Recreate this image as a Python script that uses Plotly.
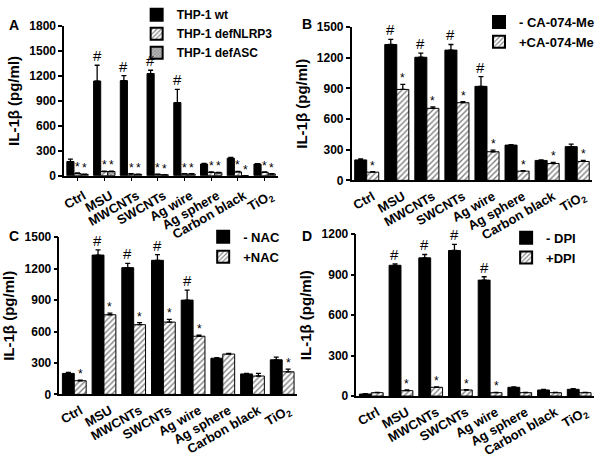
import plotly.graph_objects as go

categories = ["Ctrl", "MSU", "MWCNTs", "SWCNTs", "Ag wire", "Ag sphere", "Carbon black", "TiO<sub>2</sub>"]

# Panel A
a_wt = [170, 1140, 1145, 1230, 880, 140, 210, 140]
a_wt_err = [30, 190, 60, 40, 160, 8, 10, 5]
a_nlrp3 = [25, 50, 20, 15, 20, 40, 45, 40]
a_nlrp3_err = [8, 5, 3, 3, 3, 5, 5, 5]
a_asc = [15, 50, 15, 10, 20, 35, 0, 20]
a_asc_err = [3, 3, 3, 3, 3, 3, 0, 3]
a_hash = [0, 1, 1, 1, 1, 0, 0, 0]
a_star = [1, 1, 1, 1, 1, 1, 1, 1]

# Panel B
b_minus = [200, 1330, 1205, 1275, 920, 345, 195, 330]
b_minus_err = [10, 50, 40, 55, 95, 5, 5, 25]
b_plus = [80, 890, 705, 760, 280, 90, 165, 185]
b_plus_err = [5, 50, 15, 10, 15, 5, 10, 10]
b_hash = [0, 1, 1, 1, 1, 0, 0, 0]
b_star = [1, 1, 1, 1, 1, 1, 1, 1]

# Panel C
c_minus = [200, 1330, 1210, 1280, 900, 345, 195, 330]
c_minus_err = [10, 50, 40, 55, 95, 5, 5, 25]
c_plus = [130, 760, 665, 690, 555, 385, 175, 215]
c_plus_err = [5, 15, 20, 25, 10, 5, 25, 25]
c_hash = [0, 1, 1, 1, 1, 0, 0, 0]
c_star = [1, 1, 1, 1, 1, 0, 0, 1]

# Panel D
d_minus = [15, 970, 1025, 1080, 860, 65, 45, 50]
d_minus_err = [2, 10, 25, 45, 25, 3, 5, 5]
d_plus = [25, 40, 65, 45, 25, 25, 25, 25]
d_plus_err = [2, 5, 3, 3, 3, 2, 2, 2]
d_hash = [0, 1, 1, 1, 1, 0, 0, 0]
d_star = [0, 1, 1, 1, 1, 0, 0, 0]

W, H = 600, 458
FONT = "Liberation Sans, Arial, sans-serif"
BARGAP = 0.2

panels = [
    # (axis suffix, x-domain, y-domain, yrange, dtick, legend, x ticks, series)
    ("", [0.103, 0.463], [0.620, 0.969], [0, 1800], 300, "legend", True,
     [("THP-1 wt", a_wt, a_wt_err, "solid", a_hash, "#"),
      ("THP-1 defNLRP3", a_nlrp3, a_nlrp3_err, "hatch", a_star, "*"),
      ("THP-1 defASC", a_asc, a_asc_err, "grey", a_star, "*")]),
    ("2", [0.587, 0.992], [0.609, 0.967], [0, 1500], 300, "legend2", False,
     [("- CA-074-Me", b_minus, b_minus_err, "solid", b_hash, "#"),
      ("+CA-074-Me", b_plus, b_plus_err, "hatch", b_star, "*")]),
    ("3", [0.095, 0.495], [0.109, 0.476], [0, 1500], 300, "legend3", False,
     [("- NAC", c_minus, c_minus_err, "solid", c_hash, "#"),
      ("+NAC", c_plus, c_plus_err, "hatch", c_star, "*")]),
    ("4", [0.595, 0.995], [0.105, 0.483], [0, 1200], 300, "legend4", False,
     [("- DPI", d_minus, d_minus_err, "solid", d_hash, "#"),
      ("+DPI", d_plus, d_plus_err, "hatch", d_star, "*")]),
]

fig = go.Figure()
annotations = []
layout = {}

for suf, xd, yd, yr, dt, leg, xt, series in panels:
    n = len(series)
    axis_px = (xd[1] - xd[0]) * W
    cat_px = axis_px / len(categories)
    bar_px = cat_px * (1 - BARGAP) / n
    for k, (name, vals, errs, style, flags, sym) in enumerate(series):
        if style == "solid":
            marker = dict(color="black", line=dict(color="black", width=1))
        elif style == "hatch":
            marker = dict(color="white", line=dict(color="black", width=1),
                          pattern=dict(shape="/", fgcolor="black", bgcolor="white",
                                       size=4, solidity=0.35))
        else:
            marker = dict(color="white", line=dict(color="black", width=1),
                          pattern=dict(shape="x", fgcolor="#444", bgcolor="#bbb",
                                       size=3, solidity=0.4))
        fig.add_trace(go.Bar(
            x=categories, y=vals, name=name, marker=marker,
            xaxis="x" + suf, yaxis="y" + suf, legend=leg,
            offsetgroup=str(k),
            error_y=dict(type="data", array=errs, arrayminus=[0] * len(errs),
                         symmetric=False, color="black", thickness=1.3, width=2.5),
        ))
        shift = (k - (n - 1) / 2) * bar_px
        for cat, v, e, f in zip(categories, vals, errs, flags):
            if f:
                annotations.append(dict(
                    x=cat, y=v + e, xref="x" + suf, yref="y" + suf,
                    text=sym, showarrow=False, xshift=shift,
                    yanchor="bottom", yshift=(-1 if sym == "#" else -3),
                    font=dict(family=FONT, size=(15 if sym == "#" else 12), color="black"),
                ))
    layout["xaxis" + suf] = dict(
        domain=xd, anchor="y" + suf, type="category", range=[-0.5, 7.5],
        showline=True, linecolor="black", linewidth=1.5,
        ticks=("outside" if xt else ""), ticklen=4, tickwidth=1, tickcolor="black",
        tickangle=-30, ticklabelshift=6, ticklabelstandoff=2,
        tickfont=dict(family=FONT, size=13, color="black", weight="bold"),
        showgrid=False, zeroline=False,
    )
    layout["yaxis" + suf] = dict(
        domain=yd, anchor="x" + suf, range=yr, dtick=dt,
        showline=True, linecolor="black", linewidth=1.5,
        ticks="outside", ticklen=4, tickwidth=1.5, tickcolor="black",
        tickfont=dict(family=FONT, size=12, color="black", weight="bold"),
        showgrid=False, zeroline=False,
        title=dict(text="IL-1β (pg/ml)", standoff=6,
                   font=dict(family=FONT, size=15, color="black", weight="bold")),
    )

leg_common = dict(bgcolor="rgba(0,0,0,0)", xanchor="left", yanchor="top",
                  tracegroupgap=0, itemsizing="constant")
leg_font = lambda s: dict(family=FONT, size=s, color="black", weight="bold")
layout["legend"] = dict(x=0.225, y=1.03, font=leg_font(12), **leg_common)
layout["legend2"] = dict(x=0.802, y=1.014, font=leg_font(13), **leg_common)
layout["legend3"] = dict(x=0.337, y=0.512, font=leg_font(13), **leg_common)
layout["legend4"] = dict(x=0.847, y=0.51, font=leg_font(13), **leg_common)

for lbl, x, y in [("A", 0.006, 0.995), ("B", 0.5, 0.998), ("C", 0.006, 0.503), ("D", 0.5, 0.503)]:
    annotations.append(dict(text=lbl, x=x, y=y, xref="paper", yref="paper",
                            showarrow=False, xanchor="left", yanchor="top",
                            font=dict(family=FONT, size=14, color="black", weight="bold")))

fig.update_layout(
    width=W, height=H, margin=dict(l=0, r=0, t=0, b=0),
    paper_bgcolor="white", plot_bgcolor="white",
    barmode="group", bargap=BARGAP, bargroupgap=0,
    annotations=annotations, showlegend=True,
    **layout,
)

fig.write_html("out.html", config={"displayModeBar": False},
               post_script="document.body.style.margin='0px';")
